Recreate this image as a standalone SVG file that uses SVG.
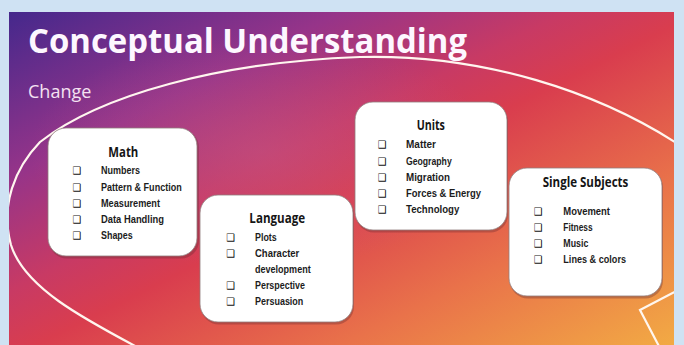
<svg xmlns="http://www.w3.org/2000/svg" width="684" height="345" viewBox="0 0 684 345">
  <defs>
    <linearGradient id="bg" x1="0" y1="0" x2="1" y2="1">
      <stop offset="0" stop-color="#45288c"/>
      <stop offset="0.25" stop-color="#963489"/>
      <stop offset="0.42" stop-color="#c83a64"/>
      <stop offset="0.52" stop-color="#d93d4e"/>
      <stop offset="0.75" stop-color="#e9724a"/>
      <stop offset="1" stop-color="#f2aa44"/>
    </linearGradient>
    <radialGradient id="glow" cx="0.38" cy="0.42" r="0.35">
      <stop offset="0" stop-color="#c25a8c" stop-opacity="0.45"/>
      <stop offset="1" stop-color="#c25a8c" stop-opacity="0"/>
    </radialGradient>
    <clipPath id="slideClip">
      <rect x="9" y="12" width="665" height="333"/>
    </clipPath>
  </defs>
  <style>
    .title { font-family: "Open Sans", "Liberation Sans", sans-serif; font-weight: 700; fill: #fdf7ff; }
    .sub { font-family: "Open Sans", "Liberation Sans", sans-serif; font-size: 18px; fill: #f4e2f2; }
    .card { fill: #ffffff; stroke: #8f7c7c; stroke-width: 0.8; }
    .shadow { fill: #6a2a30; opacity: 0.35; }
    .head { font-family: "Open Sans", "Liberation Sans", sans-serif; font-weight: 700; font-size: 13.5px; fill: #151515; }
    .item { font-family: "Liberation Sans", "Arial", sans-serif; font-weight: 700; font-size: 10.5px; fill: #1c1c1c; }
    .box { font-family: "DejaVu Sans", sans-serif; font-weight: 700; font-size: 10px; fill: #111; }
    .oval { fill: none; stroke: #fff6ef; stroke-width: 2.2; }
  </style>

  <rect x="0" y="0" width="684" height="345" fill="#cfe2f3"/>
  <rect x="9" y="12" width="665" height="333" fill="url(#bg)"/>
  <rect x="9" y="12" width="665" height="333" fill="url(#glow)"/>

  <g clip-path="url(#slideClip)">
    <path class="oval" d="M152,355 C90,322 25,290 11,245 C0,205 15,168 40,142 C100,95 220,62 360,57 C480,54 600,90 690,152"/>
    <path class="oval" d="M690,284 L640,310 L662,352"/>
  </g>

  <text class="title" x="28" y="53" font-size="34" textLength="439" lengthAdjust="spacingAndGlyphs">Conceptual Understanding</text>
  <text class="sub" x="28" y="98">Change</text>

  <g id="node-math">
    <rect class="shadow" x="49" y="129.5" width="150" height="129" rx="18"/>
    <rect class="card" x="48" y="128" width="149" height="128" rx="18"/>
    <text class="head" x="123.3" y="157" text-anchor="middle" textLength="30" lengthAdjust="spacingAndGlyphs">Math</text>
    <text class="box" x="72.5" y="174.3">❑</text>
    <text class="item" x="101" y="174.3" textLength="39" lengthAdjust="spacingAndGlyphs">Numbers</text>
    <text class="box" x="72.5" y="190.7">❑</text>
    <text class="item" x="101" y="190.7" textLength="80.7" lengthAdjust="spacingAndGlyphs">Pattern &amp; Function</text>
    <text class="box" x="72.5" y="206.7">❑</text>
    <text class="item" x="101" y="206.7" textLength="59" lengthAdjust="spacingAndGlyphs">Measurement</text>
    <text class="box" x="72.5" y="222.7">❑</text>
    <text class="item" x="101" y="222.7" textLength="63" lengthAdjust="spacingAndGlyphs">Data Handling</text>
    <text class="box" x="72.5" y="239">❑</text>
    <text class="item" x="101" y="239" textLength="31.7" lengthAdjust="spacingAndGlyphs">Shapes</text>
  </g>

  <g id="node-language">
    <rect class="shadow" x="201" y="196.5" width="153" height="128" rx="18"/>
    <rect class="card" x="200" y="195" width="153" height="127" rx="18"/>
    <text class="head" x="277.2" y="222.7" text-anchor="middle" textLength="55.7" lengthAdjust="spacingAndGlyphs">Language</text>
    <text class="box" x="226.2" y="240.7">❑</text>
    <text class="item" x="255" y="240.7" textLength="21.7" lengthAdjust="spacingAndGlyphs">Plots</text>
    <text class="box" x="226.2" y="256.7">❑</text>
    <text class="item" x="255" y="256.7" textLength="44.3" lengthAdjust="spacingAndGlyphs">Character</text>
    <text class="item" x="255" y="273.3" textLength="55.7" lengthAdjust="spacingAndGlyphs">development</text>
    <text class="box" x="226.2" y="289.3">❑</text>
    <text class="item" x="255" y="289.3" textLength="50" lengthAdjust="spacingAndGlyphs">Perspective</text>
    <text class="box" x="226.2" y="305.3">❑</text>
    <text class="item" x="255" y="305.3" textLength="48.3" lengthAdjust="spacingAndGlyphs">Persuasion</text>
  </g>

  <g id="node-units">
    <rect class="shadow" x="356" y="103.5" width="152" height="129" rx="18"/>
    <rect class="card" x="355" y="102" width="152" height="128" rx="18"/>
    <text class="head" x="430.8" y="130" text-anchor="middle" textLength="28.3" lengthAdjust="spacingAndGlyphs">Units</text>
    <text class="box" x="377.8" y="148.3">❑</text>
    <text class="item" x="406" y="148.3" textLength="30" lengthAdjust="spacingAndGlyphs">Matter</text>
    <text class="box" x="377.8" y="165">❑</text>
    <text class="item" x="406" y="165" textLength="45.7" lengthAdjust="spacingAndGlyphs">Geography</text>
    <text class="box" x="377.8" y="181">❑</text>
    <text class="item" x="406" y="181" textLength="44" lengthAdjust="spacingAndGlyphs">Migration</text>
    <text class="box" x="377.8" y="197.3">❑</text>
    <text class="item" x="406" y="197.3" textLength="75" lengthAdjust="spacingAndGlyphs">Forces &amp; Energy</text>
    <text class="box" x="377.8" y="213.3">❑</text>
    <text class="item" x="406" y="213.3" textLength="53.3" lengthAdjust="spacingAndGlyphs">Technology</text>
  </g>

  <g id="node-single-subjects">
    <rect class="shadow" x="510" y="169.5" width="153" height="129" rx="18"/>
    <rect class="card" x="509" y="168" width="153" height="128" rx="18"/>
    <text class="head" x="585.5" y="187.3" text-anchor="middle" textLength="85.7" lengthAdjust="spacingAndGlyphs">Single Subjects</text>
    <text class="box" x="533.8" y="215">❑</text>
    <text class="item" x="563.3" y="215" textLength="46.7" lengthAdjust="spacingAndGlyphs">Movement</text>
    <text class="box" x="533.8" y="230.7">❑</text>
    <text class="item" x="563.3" y="230.7" textLength="29.3" lengthAdjust="spacingAndGlyphs">Fitness</text>
    <text class="box" x="533.8" y="246.7">❑</text>
    <text class="item" x="563.3" y="246.7" textLength="25" lengthAdjust="spacingAndGlyphs">Music</text>
    <text class="box" x="533.8" y="262.7">❑</text>
    <text class="item" x="563.3" y="262.7" textLength="62.7" lengthAdjust="spacingAndGlyphs">Lines &amp; colors</text>
  </g>

  <g id="connectors"/>
</svg>
